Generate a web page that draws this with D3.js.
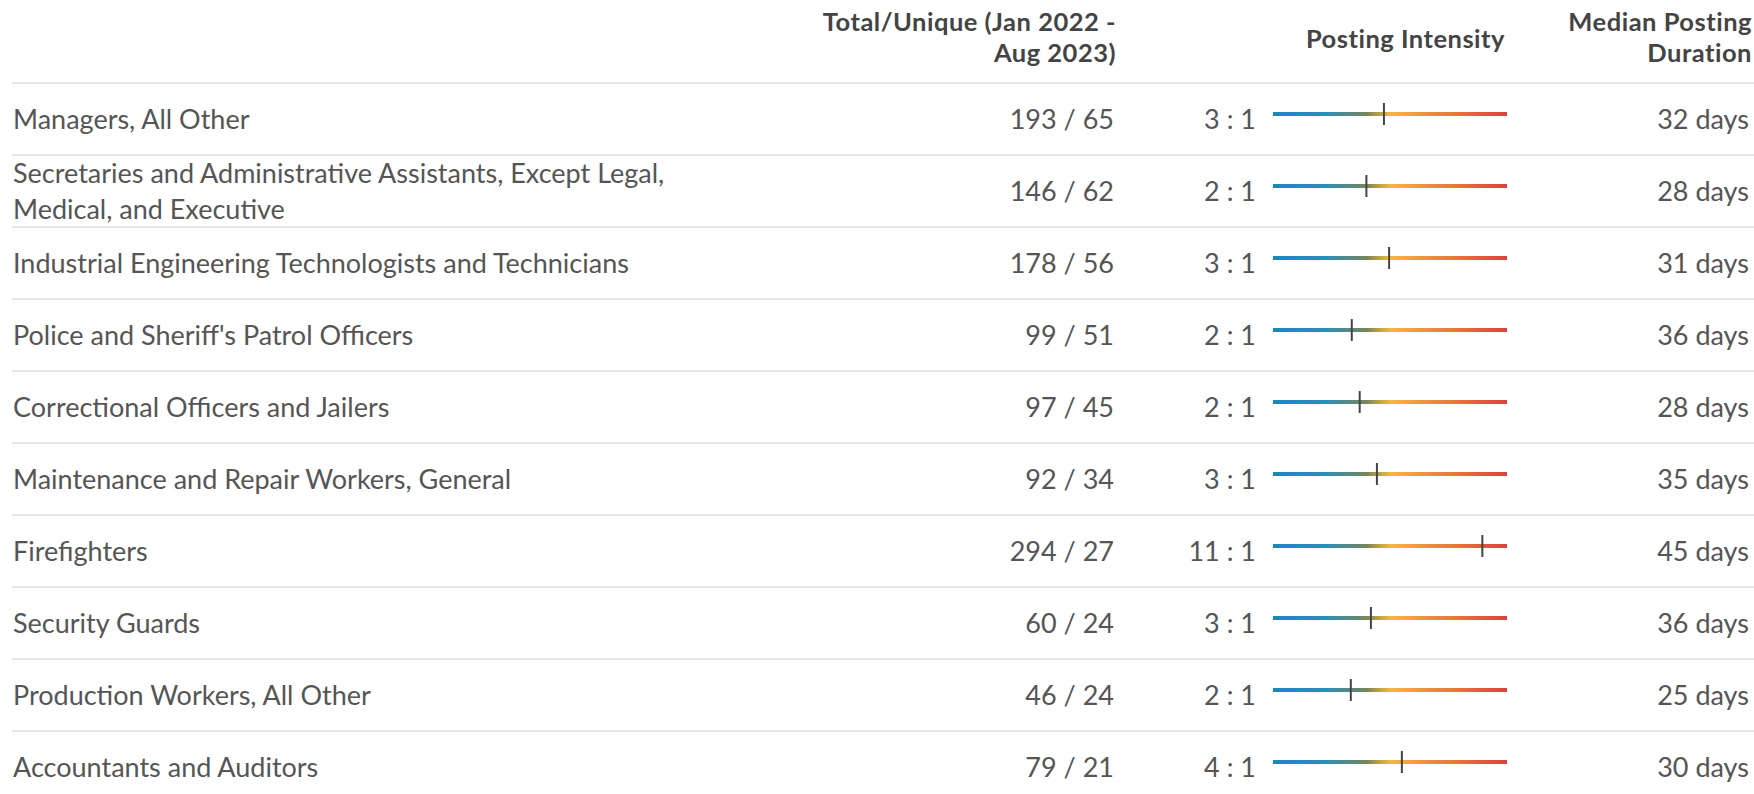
<!DOCTYPE html>
<html>
  <head>
    <meta http-equiv="Content-Type" content="text/html;charset=utf-8"/>
    <title>Occupations table</title>
    <script src="https://cdn.jsdelivr.net/npm/d3@7/dist/d3.min.js"></script>
    <style>
      body { margin: 0; background: #fff; }
      text { font-family: Lato, "Open Sans", sans-serif; }
    </style>
  </head>
  <body>
    <svg id="target"></svg>
  </body>
  <script>
    var occupations = [ "Managers, All Other",
                        "Secretaries and Administrative Assistants, Except Legal, Medical, and Executive",
                        "Industrial Engineering Technologists and Technicians",
                        "Police and Sheriff's Patrol Officers",
                        "Correctional Officers and Jailers",
                        "Maintenance and Repair Workers, General",
                        "Firefighters",
                        "Security Guards",
                        "Production Workers, All Other",
                        "Accountants and Auditors" ];
    var totals    = [ 193, 146, 178, 99, 97, 92, 294, 60, 46, 79 ];
    var uniques   = [ 65, 62, 56, 51, 45, 34, 27, 24, 24, 21 ];
    var ratios    = [ "3 : 1", "2 : 1", "3 : 1", "2 : 1", "2 : 1", "3 : 1", "11 : 1", "3 : 1", "2 : 1", "4 : 1" ];
    var durations = [ 32, 28, 31, 36, 28, 35, 45, 36, 25, 30 ];
    var headers   = [ "Total/Unique (Jan 2022 - Aug 2023)", "Posting Intensity", "Median Posting Duration" ];

    var width = 1754;
    var height = 794;
    var target = d3.select( "#target" ).attr( "width", width ).attr( "height", height );

    var rows = occupations.map( ( d, i ) => ( { name: d, total: totals[i], unique: uniques[i],
                                                ratio: ratios[i], days: durations[i], i: i } ) );

    var yScale = d3.scaleBand().domain( d3.range( rows.length ) ).range( [ 83, 83 + 72 * rows.length ] );
    // intensity marker on a log scale
    var xIntensity = d3.scaleLog().domain( [ 0.686, 15.08 ] ).range( [ 1273, 1507 ] );

    var grad = target.append( "defs" ).append( "linearGradient" )
      .attr( "id", "intensity" ).attr( "gradientUnits", "userSpaceOnUse" )
      .attr( "x1", 1273 ).attr( "x2", 1507 ).attr( "y1", 0 ).attr( "y2", 0 );
    [ [0, "#1f85c2"], [0.22, "#2c8cbe"], [0.4, "#77875a"], [0.5, "#f3b83c"],
      [0.68, "#ef8a3c"], [1, "#e0403f"] ].forEach( s =>
      grad.append( "stop" ).attr( "offset", s[0] ).attr( "stop-color", s[1] ) );

    // header
    var head = target.append( "g" ).attr( "fill", "#444" ).attr( "font-weight", "bold" )
      .attr( "font-size", 25.5 ).attr( "letter-spacing", 0.5 ).attr( "text-anchor", "end" );
    head.append( "text" ).attr( "x", 1116 ).attr( "y", 31 ).text( "Total/Unique (Jan 2022 -" );
    head.append( "text" ).attr( "x", 1116 ).attr( "y", 62 ).text( "Aug 2023)" );
    head.append( "text" ).attr( "x", 1505 ).attr( "y", 48 ).text( headers[1] );
    head.append( "text" ).attr( "x", 1752 ).attr( "y", 31 ).text( "Median Posting" );
    head.append( "text" ).attr( "x", 1752 ).attr( "y", 62 ).text( "Duration" );

    // separators
    target.selectAll( "line.sep" ).data( rows )
      .enter().append( "line" ).attr( "class", "sep" )
        .attr( "x1", 12 ).attr( "x2", width )
        .attr( "y1", d => yScale( d.i ) ).attr( "y2", d => yScale( d.i ) )
        .attr( "stroke", "#e6e6e6" ).attr( "stroke-width", 2 );

    var row = target.selectAll( "g.row" ).data( rows )
      .enter().append( "g" ).attr( "class", "row" )
        .attr( "transform", d => "translate(0," + ( yScale( d.i ) + yScale.bandwidth() / 2 ) + ")" )
        .attr( "fill", "#555" ).attr( "font-size", 27 );

    // labels, wrapped at 700px
    row.append( "text" ).attr( "x", 13 ).each( function( d ) {
      var el = d3.select( this );
      var words = d.name.split( " " ), lines = [], cur = [];
      words.forEach( w => {
        el.text( cur.concat( w ).join( " " ) );
        if ( this.getComputedTextLength() > 700 && cur.length ) { lines.push( cur.join( " " ) ); cur = [ w ]; }
        else cur.push( w );
      } );
      lines.push( cur.join( " " ) );
      el.text( null );
      var off = -( lines.length - 1 ) * 18;
      lines.forEach( ( l, k ) => el.append( "tspan" ).attr( "x", 13 ).attr( "y", off + k * 36 + 10 ).text( l ) );
    } );

    row.append( "text" ).attr( "x", 1114 ).attr( "y", 10 ).attr( "text-anchor", "end" )
      .text( d => d.total + " / " + d.unique );
    row.append( "text" ).attr( "x", 1256 ).attr( "y", 10 ).attr( "text-anchor", "end" )
      .text( d => d.ratio );
    row.append( "text" ).attr( "x", 1749 ).attr( "y", 10 ).attr( "text-anchor", "end" )
      .text( d => d.days + " days" );

    row.append( "line" ).attr( "x1", 1273 ).attr( "x2", 1507 ).attr( "y1", -5 ).attr( "y2", -5 )
      .attr( "stroke", "url(#intensity)" ).attr( "stroke-width", 4 );
    row.append( "line" )
      .attr( "x1", d => xIntensity( d.total / d.unique ) ).attr( "x2", d => xIntensity( d.total / d.unique ) )
      .attr( "y1", -16 ).attr( "y2", 6 ).attr( "stroke", "#444" ).attr( "stroke-width", 2 );
  </script>
</html>
